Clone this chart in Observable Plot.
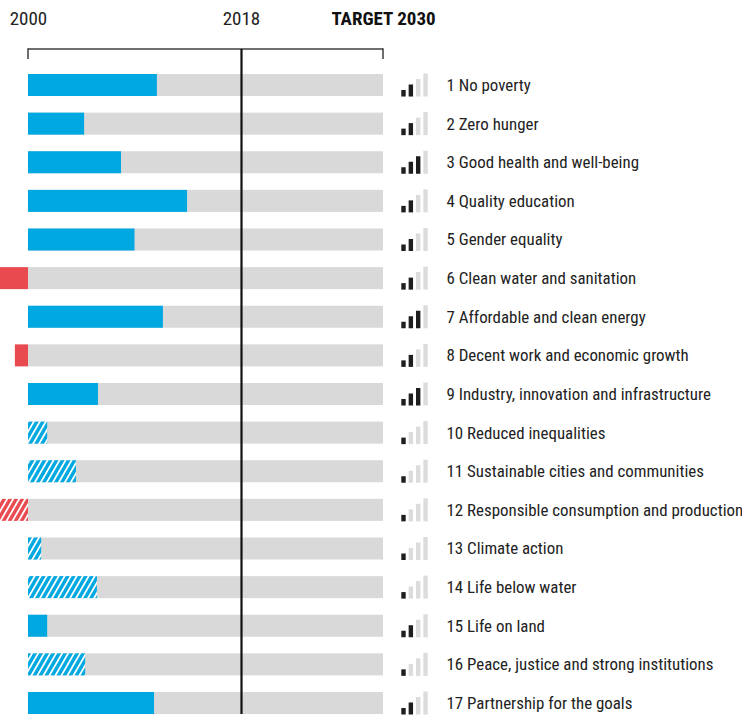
<!DOCTYPE html>
<html><head><meta charset="utf-8">
<script src="https://cdn.jsdelivr.net/npm/d3@7"></script>
<script src="https://cdn.jsdelivr.net/npm/@observablehq/plot@0.6"></script>
<style>body{margin:0;background:#fff}</style>
</head><body><div id="chart"></div>
<script>
// ---- data ----
const goals = [
  "1 No poverty",
  "2 Zero hunger",
  "3 Good health and well-being",
  "4 Quality education",
  "5 Gender equality",
  "6 Clean water and sanitation",
  "7 Affordable and clean energy",
  "8 Decent work and economic growth",
  "9 Industry, innovation and infrastructure",
  "10 Reduced inequalities",
  "11 Sustainable cities and communities",
  "12 Responsible consumption and production",
  "13 Climate action",
  "14 Life below water",
  "15 Life on land",
  "16 Peace, justice and strong institutions",
  "17 Partnership for the goals"
];
// progress made since 2000, in % of the distance to the 2030 target
const progress = [36.3, 15.8, 26.2, 44.8, 30.0, -7.9, 38.0, -3.7, 19.7, 5.4, 13.5, -7.9, 3.7, 19.4, 5.4, 16.1, 35.5];
// goals with hatched (insufficient data) bars
const hatchedGoals = [10, 11, 12, 13, 14, 16];
// data-availability signal (number of dark bars out of 4)
const signalLevel = [2, 2, 3, 2, 2, 2, 3, 2, 3, 1, 1, 1, 1, 1, 2, 1, 2];
const axisYears = [2000, 2018, 2030];
const axisLabels = ["2000", "2018", "TARGET 2030"];

// ---- derived ----
const startYear = axisYears[0], nowYear = axisYears[1], targetYear = axisYears[2];
const toYear = p => startYear + p / 100 * (targetYear - startYear);
const rows = goals.map((g, i) => ({
  goal: g, num: i + 1, progress: progress[i],
  hatched: hatchedGoals.includes(i + 1), level: signalLevel[i]
}));
const header = axisYears.map((y, i) => ({year: y, label: axisLabels[i], bold: i === axisYears.length - 1}));

const BLUE = "#00a8e1", RED = "#e84a50", GREY = "#d9d9d9", DARK = "#1e1e1e";
const FONT = '"Liberation Sans Narrow","Roboto Condensed","DejaVu Sans Condensed","Arial Narrow",sans-serif';

const W = 742, H = 716, MT = 49, MB = 2;
const frameH = H - MT - MB;

const iconHeights = [6.5, 12, 17.5, 23];
const bandH = 22;
const iconMarks = iconHeights.map((h, k) => Plot.barX(rows, {
  x1: () => targetYear, x2: () => targetYear, y: "goal",
  dx: 18.3 + k * 7.35, insetLeft: 0, insetRight: -4.4,
  insetTop: bandH - h + 0.5, insetBottom: -0.5,
  fill: d => k < d.level ? DARK : "#dcdcdc"
}));

const chart = Plot.plot({
  width: W, height: H,
  marginTop: MT, marginBottom: MB, marginLeft: 28, marginRight: W - 383,
  x: {domain: [startYear, targetYear], range: [28, 383], axis: null},
  y: {domain: goals, range: [65.7, 722.3], paddingInner: 0.43, paddingOuter: 0.215, round: false, axis: null},
  color: {type: "identity"},
  style: {fontFamily: FONT, background: "#fff", color: "#222"},
  marks: [
    // grey background bars
    Plot.barX(rows, {x1: () => startYear, x2: () => targetYear, y: "goal", fill: GREY}),
    // progress bars
    Plot.barX(rows, {
      x1: () => startYear, x2: d => toYear(d.progress), y: "goal",
      fill: d => d.hatched ? (d.progress < 0 ? "url(#hatch-red)" : "url(#hatch-blue)") : (d.progress < 0 ? RED : BLUE)
    }),
    // bracket: top line and end ticks
    Plot.barX([axisYears], {x1: d => d[0], x2: d => d[2], insetTop: -0.7, insetBottom: frameH - 0.7, fill: "#333"}),
    Plot.barX([startYear, targetYear], {x1: d => d, x2: d => d, insetLeft: -0.7, insetRight: -0.7, insetTop: -0.7, insetBottom: frameH - 10, fill: "#333"}),
    // 2018 line
    Plot.ruleX([nowYear], {stroke: "#111", strokeWidth: 2.2}),
    // header labels
    Plot.text(header.filter(d => !d.bold), {x: "year", text: "label", frameAnchor: "top", lineAnchor: "middle", dy: -31, fontSize: 19, fill: "#222"}),
    Plot.text(header.filter(d => d.bold), {x: "year", text: "label", frameAnchor: "top", lineAnchor: "middle", dy: -31, fontSize: 19, fontWeight: "bold", fill: "#111"}),
    // signal icons
    ...iconMarks,
    // goal labels
    Plot.text(rows, {x: () => targetYear, y: "goal", text: "goal", dx: 63, textAnchor: "start", fontSize: 16.9, fill: "#222"})
  ]
});

const svg = d3.select(chart);
const defs = svg.insert("defs", ":first-child");
[["hatch-blue", BLUE], ["hatch-red", RED]].forEach(([id, c]) => {
  const p = defs.append("pattern").attr("id", id).attr("patternUnits", "userSpaceOnUse")
    .attr("width", 5.2).attr("height", 10).attr("patternTransform", "rotate(30)");
  p.append("rect").attr("width", 5.2).attr("height", 10).attr("fill", c);
  p.append("rect").attr("width", 1.8).attr("height", 10).attr("fill", "#fff");
});
document.getElementById("chart").appendChild(chart);
</script>
</body></html>
